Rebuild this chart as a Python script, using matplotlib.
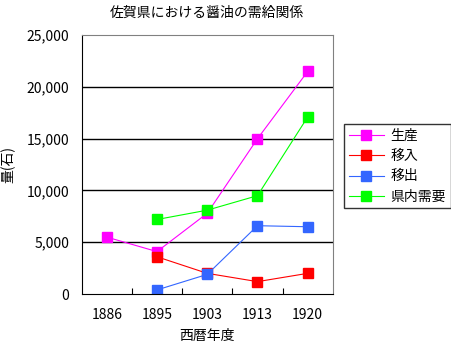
import numpy as np
import matplotlib
matplotlib.use('Agg')
import matplotlib.pyplot as plt

plt.rcParams['font.family'] = ['Noto Sans CJK JP', 'DejaVu Sans']

years = ['1886', '1895', '1903', '1913', '1920']
seisan = [5500, 4100, 7800, 15000, 21500]
inyu = [np.nan, 3600, 2000, 1200, 2000]
ishutsu = [np.nan, 400, 1900, 6600, 6500]
juyou = [np.nan, 7200, 8100, 9500, 17100]

names = ['生産', '移入', '移出', '県内需要']
colors = ['#FF00FF', '#FF0000', '#3366FF', '#00FF00']

fig = plt.figure(figsize=(4.51, 3.48), dpi=100)
ax = fig.add_axes([0.181, 0.155, 0.557, 0.744])

x = np.arange(len(years))
for vals, name, c in zip([seisan, inyu, ishutsu, juyou], names, colors):
    ax.plot(x, vals, color=c, lw=0.8, marker='s', ms=7, mec=c, mfc=c, label=name)

ax.set_xlim(-0.5, 4.5)
ax.set_ylim(0, 25000)
ax.set_yticks(np.arange(0, 25001, 5000))
ax.set_yticklabels([f'{v:,}' for v in range(0, 25001, 5000)])
ax.set_xticks(x)
ax.set_xticklabels(years)
ax.set_xticks([0.5, 1.5, 2.5, 3.5], minor=True)
ax.tick_params(axis='x', which='major', length=0, pad=10, labelsize=10)
ax.tick_params(axis='x', which='minor', direction='in', length=4, width=0.8, color='black')
ax.tick_params(axis='y', length=0, pad=9, labelsize=10)

for v in [5000, 10000, 15000, 20000]:
    ax.axhline(v, color='black', lw=1, zorder=0)

ax.spines['top'].set_color('#808080')
ax.spines['right'].set_color('#808080')
for s in ['left', 'bottom']:
    ax.spines[s].set_color('black')

ax.set_title('佐賀県における醤油の需給関係', fontsize=10, pad=13)
ax.set_xlabel('西暦年度', fontsize=10, labelpad=5)
ax.set_ylabel('量(石)', fontsize=10, labelpad=8)

leg = fig.legend(loc='upper left', bbox_to_anchor=(344/451, 1 - 124/348),
                 fontsize=10, handlelength=2.5, frameon=True, fancybox=False,
                 edgecolor='black', borderpad=0.35, labelspacing=0.45,
                 handletextpad=0.5, borderaxespad=0)
leg.get_frame().set_linewidth(1)

fig.savefig('out.png', dpi=100)
